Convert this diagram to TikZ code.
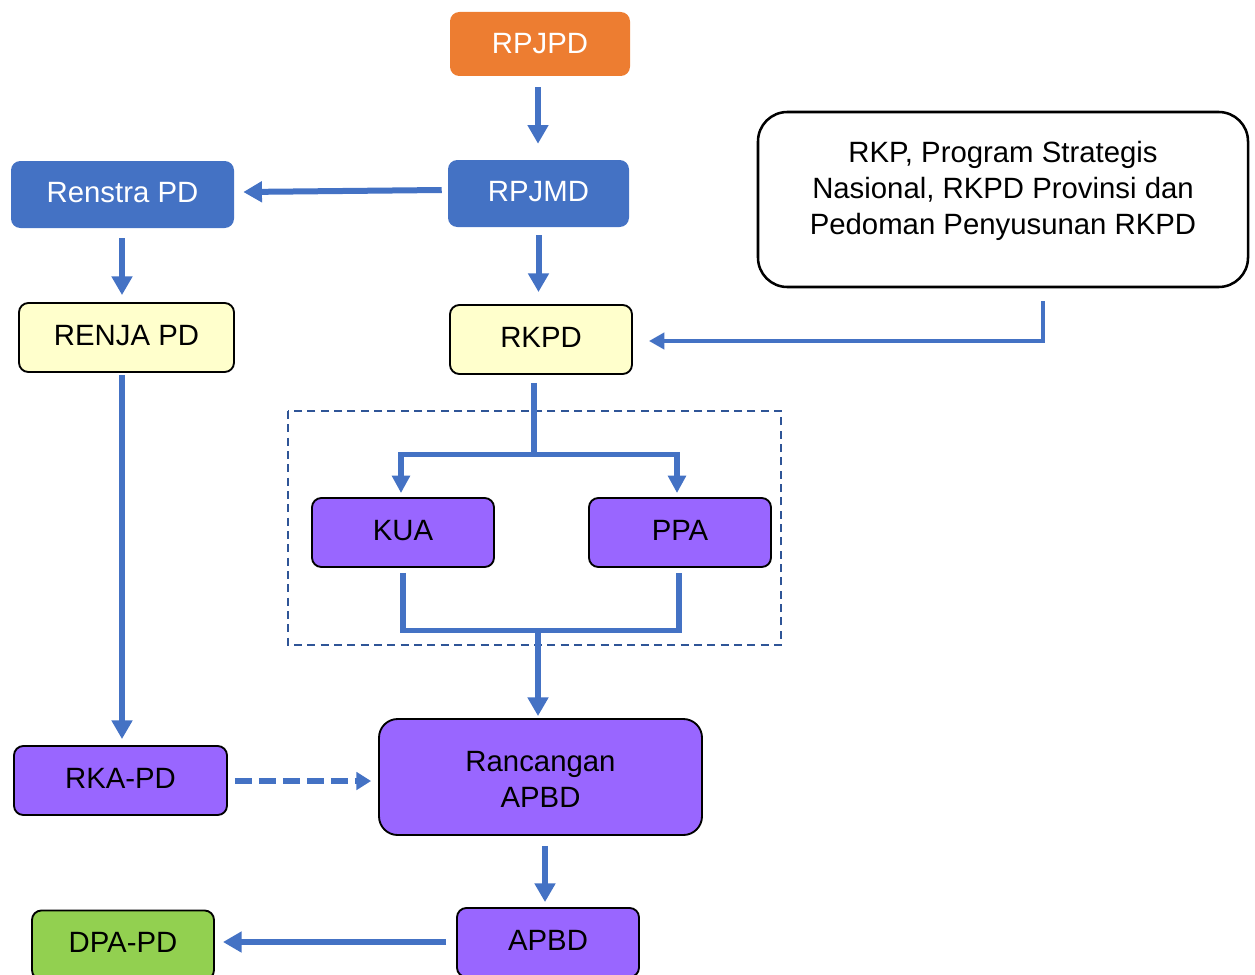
\documentclass[tikz,border=0pt]{standalone}
\usepackage{fontspec}
\setmainfont{Liberation Sans}
\usetikzlibrary{arrows.meta,calc}
\definecolor{cblue}{HTML}{4472C4}
\definecolor{corange}{HTML}{ED7D31}
\definecolor{cpurple}{HTML}{9966FF}
\definecolor{cyel}{HTML}{FFFFCC}
\definecolor{cgreen}{HTML}{92D050}
\definecolor{cframe}{HTML}{2F5597}
\begin{document}
\begin{tikzpicture}[x=0.75pt,y=-0.75pt,
  font=\fontsize{22pt}{27pt}\selectfont,
  box/.style={rounded corners=7pt, inner sep=0pt, align=center},
  oneline/.style={text height=15.75pt, text depth=4pt},
  solidbox/.style={box, text=white},
  linebox/.style={box, draw=black, line width=1.4pt},
  arr/.style={draw=cblue, line width=4.5pt, -{Triangle[length=14pt,width=15pt]}},
  arrmid/.style={draw=cblue, line width=3.8pt, -{Triangle[length=13pt,width=13pt]}},
  linemid/.style={draw=cblue, line width=3.8pt},
  arrthin/.style={draw=cblue, line width=3pt, -{Triangle[length=11.5pt,width=12pt]}},
  arrdash/.style={draw=cblue, line width=3.8pt, dash pattern=on 12.75pt off 5.25pt, -{Triangle[length=11pt,width=13pt]}},
  frame/.style={draw=cframe, line width=1.5pt, dash pattern=on 6pt off 4pt}
]
\useasboundingbox (0,0) rectangle (1255,974);
\clip (0,0) rectangle (1255,974);

% nodes
\node[solidbox, fill=corange, minimum width=135pt, minimum height=48pt] (rpjpd) at (540,44) {RPJPD};
\node[solidbox, oneline, fill=cblue, minimum width=135.75pt, minimum height=50.25pt] (rpjmd) at (538.5,193.5) {RPJMD};
\node[solidbox, oneline, fill=cblue, minimum width=167.25pt, minimum height=50.25pt] (renstra) at (122.5,194.5) {Renstra PD};
\node[linebox, oneline, fill=cyel, minimum width=161.25pt, minimum height=51.75pt] (renja) at (126.5,337.5) {RENJA PD};
\node[linebox, oneline, fill=cyel, minimum width=136.5pt, minimum height=51.75pt] (rkpd) at (541,339.5) {RKPD};
\node[box, draw=black, line width=1.9pt, rounded corners=22pt, fill=white, minimum width=367.5pt, minimum height=131.25pt] (rkp) at (1003,199.5) {};
\node[align=center, inner sep=0pt] (rkptxt) at (1003,191) {RKP, Program Strategis\\Nasional, RKPD Provinsi dan\\Pedoman Penyusunan RKPD};

\draw[frame] (288,411) rectangle (781,645);

\node[linebox, oneline, fill=cpurple, minimum width=136.5pt, minimum height=51.75pt] (kua) at (403,532.5) {KUA};
\node[linebox, oneline, fill=cpurple, minimum width=136.5pt, minimum height=51.75pt] (ppa) at (680,532.5) {PPA};
\node[linebox, fill=cpurple, rounded corners=14pt, text height=45.5pt, minimum width=242.25pt, minimum height=87pt] (ranc) at (540.5,777) {Rancangan\\APBD};
\node[linebox, oneline, fill=cpurple, minimum width=159.75pt, minimum height=51.75pt] (rka) at (120.5,780.5) {RKA-PD};
\node[linebox, oneline, fill=cpurple, minimum width=136.5pt, minimum height=51.75pt] (apbd) at (548,942.5) {APBD};
\node[linebox, oneline, fill=cgreen, minimum width=136.5pt, minimum height=51.75pt] (dpa) at (123,945) {DPA-PD};

% connectors
\draw[arr] ($(rpjpd.south)+(-2,11)$) -- ($(rpjmd.north)+(-0.5,-16)$);
\draw[arr] ($(rpjmd.west)+(-6,-3.5)$) -- ($(renstra.east)+(9,-2.5)$);
\draw[arr] ($(renstra.south)+(-0.5,10)$) -- ($(renja.north)+(-4.5,-7)$);
\draw[arr] ($(rpjmd.south)+(0,8)$) -- ($(rkpd.north)+(-2.5,-12)$);
\draw[arrthin] ($(rkp.south)+(40,13)$) |- ($(rkpd.east)+(16,1.5)$);

\coordinate (sp) at ($(rkpd.south)+(-7,80)$);
\draw[linemid] ($(rkpd.south)+(-7,8)$) -- (sp);
\draw[arrmid] (sp) -| ($(kua.north)+(-2,-4)$);
\draw[arrmid] (sp) -| ($(ppa.north)+(-3,-4)$);

\draw[linemid] ($(kua.south)+(0,5)$) -- ++(0,58) -| ($(ppa.south)+(-1,5)$);
\coordinate (mg) at ($(kua.south)+(135,63)$);
\draw[arr] (mg) -- ($(ranc.north)+(-2.5,-2)$);

\draw[arr] ($(renja.south)+(-4.5,2)$) -- ($(rka.north)+(1.5,-6)$);
\draw[arrdash] ($(rka.east)+(7,0.5)$) -- ($(ranc.west)+(-7,4)$);
\draw[arr] ($(ranc.south)+(4.5,10)$) -- ($(apbd.north)+(-3,-5)$);
\draw[arr] ($(apbd.west)+(-10,-0.5)$) -- ($(dpa.east)+(8,-3)$);
\end{tikzpicture}
\end{document}
